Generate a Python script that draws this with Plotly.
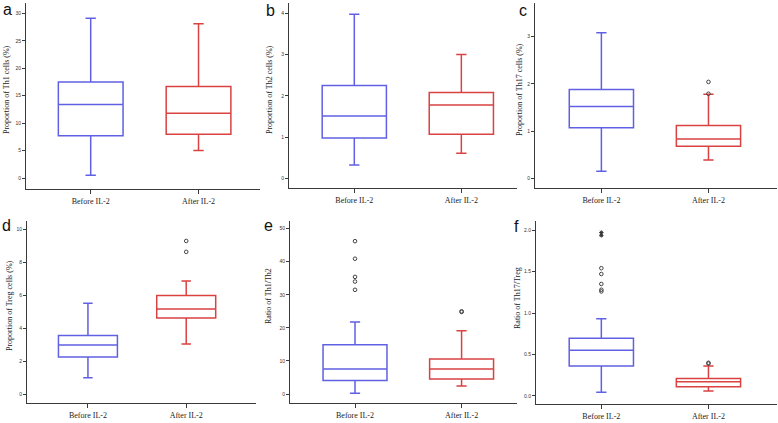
import plotly.graph_objects as go

W, H = 778, 423

groups = ["Before IL-2", "After IL-2"]

# five-number summaries: [lower whisker, Q1, median, Q3, upper whisker]
th1_before = [0.5, 7.7, 13.4, 17.5, 29.1]
th1_after = [5.0, 8.0, 11.8, 16.7, 28.1]

th2_before = [0.32, 0.98, 1.51, 2.25, 3.98]
th2_after = [0.61, 1.07, 1.78, 2.08, 3.0]

th17_before = [0.15, 1.07, 1.52, 1.88, 3.08]
th17_after = [0.39, 0.68, 0.83, 1.12, 1.78]
th17_after_out = [1.79, 2.04]

treg_before = [1.01, 2.26, 2.99, 3.56, 5.52]
treg_after = [3.05, 4.63, 5.17, 5.98, 6.87]
treg_after_out = [8.63, 9.29]

th1th2_before = [0.2, 4.1, 7.55, 14.9, 21.8]
th1th2_before_out = [31.5, 34.0, 35.4, 40.9, 46.2]
th1th2_after = [2.4, 4.5, 7.55, 10.6, 19.1]
th1th2_after_out = [24.8, 25.0]

th17treg_before = [0.044, 0.36, 0.55, 0.695, 0.93]
th17treg_before_out = [1.26, 1.28, 1.35, 1.47, 1.54]
th17treg_before_ext = [1.935, 1.97]
th17treg_after = [0.06, 0.11, 0.17, 0.21, 0.36]
th17treg_after_out = [0.39, 0.40]

titles = ["Proportion of Th1 cells (%)", "Proportion of Th2 cells (%)",
          "Proportion of Th17 cells (%)", "Proportion of Treg cells (%)",
          "Ratio of Th1/Th2", "Ratio of Th17/Treg"]
letters = ["a", "b", "c", "d", "e", "f"]

BLUE = "rgb(96,96,228)"
RED = "rgb(218,66,66)"
AX = "#3a3a3a"
SERIF = "Liberation Serif, Times New Roman, serif"
SANS = "Liberation Sans, Arial, sans-serif"

# layout in pixels
panels = [
    dict(l=26, r=260, t=3, b=189, xr=[-0.60, 1.57], yr=[-2.0, 31.9], dt=5, fmt=""),
    dict(l=289, r=517, t=3, b=188, xr=[-0.61, 1.52], yr=[-0.235, 4.25], dt=1, fmt=""),
    dict(l=535, r=777, t=3, b=188, xr=[-0.62, 1.64], yr=[-0.205, 3.71], dt=1, fmt=""),
    dict(l=27, r=256, t=221, b=403, xr=[-0.62, 1.71], yr=[-0.527, 10.5], dt=2, fmt=""),
    dict(l=290, r=517, t=221, b=403, xr=[-0.61, 1.52], yr=[-2.72, 52.3], dt=10, fmt=""),
    dict(l=536, r=777, t=221, b=404, xr=[-0.61, 1.64], yr=[-0.097, 2.109], dt=0.5, fmt=".1f"),
]
title_pos = [(7, 90), (270, 90), (520, 90), (9, 306), (268, 296), (517, 298)]
letter_pos = [(7, 9), (270, 10), (523, 10), (6, 225), (268, 225), (516, 226)]

summaries = [
    (th1_before, th1_after),
    (th2_before, th2_after),
    (th17_before, th17_after),
    (treg_before, treg_after),
    (th1th2_before, th1th2_after),
    (th17treg_before, th17treg_after),
]
outliers = [
    ([], []),
    ([], []),
    ([], th17_after_out),
    ([], treg_after_out),
    (th1th2_before_out, th1th2_after_out),
    (th17treg_before_out, th17treg_after_out),
]
extremes = [([], []), ([], []), ([], []), ([], []), ([], []), (th17treg_before_ext, [])]

fig = go.Figure()
layout = {}
annotations = []

for i, p in enumerate(panels):
    n = "" if i == 0 else str(i + 1)
    xa, ya = "x" + n, "y" + n
    for g, s, col in zip(groups, summaries[i], [BLUE, RED]):
        fig.add_trace(go.Box(
            x=[g], lowerfence=[s[0]], q1=[s[1]], median=[s[2]], q3=[s[3]],
            upperfence=[s[4]], xaxis=xa, yaxis=ya, width=0.6,
            whiskerwidth=0.16, boxpoints=False, fillcolor="rgba(255,255,255,0)",
            line=dict(color=col, width=1.5), showlegend=False, hoverinfo="skip"))
    for g, o in zip(groups, outliers[i]):
        if o:
            fig.add_trace(go.Scatter(
                x=[g] * len(o), y=o, mode="markers", xaxis=xa, yaxis=ya,
                marker=dict(symbol="circle-open", size=3.6, color="#444",
                            line=dict(width=1, color="#444")),
                showlegend=False, hoverinfo="skip"))
    for g, o in zip(groups, extremes[i]):
        if o:
            fig.add_trace(go.Scatter(
                x=[g] * len(o), y=o, mode="markers", xaxis=xa, yaxis=ya,
                marker=dict(symbol="asterisk-open", size=3.6, color="#333",
                            line=dict(width=1, color="#333")),
                showlegend=False, hoverinfo="skip"))

    xkey = "xaxis" + n
    ykey = "yaxis" + n
    layout[xkey] = dict(
        domain=[p["l"] / W, p["r"] / W], anchor=ya, type="category",
        categoryorder="array", categoryarray=groups, range=p["xr"],
        showline=True, linecolor=AX, linewidth=1, ticks="outside", ticklen=4,
        tickcolor=AX, tickwidth=1, showgrid=False, zeroline=False,
        tickfont=dict(family=SERIF, size=8, color="#222"), fixedrange=True)
    layout[ykey] = dict(
        domain=[1 - p["b"] / H, 1 - p["t"] / H], anchor=xa, range=p["yr"],
        dtick=p["dt"], tick0=0, tickformat=p["fmt"],
        showline=True, linecolor=AX, linewidth=1, ticks="outside", ticklen=3,
        tickcolor=AX, tickwidth=1, showgrid=False, zeroline=False,
        tickfont=dict(family=SANS, size=5, color="#333"), fixedrange=True)

    tx, ty = title_pos[i]
    annotations.append(dict(
        text=titles[i], x=tx / W, y=1 - ty / H, xref="paper", yref="paper",
        textangle=-90, showarrow=False, xanchor="center", yanchor="middle",
        font=dict(family=SERIF, size=8, color="#222")))
    lx, ly = letter_pos[i]
    annotations.append(dict(
        text=letters[i], x=lx / W, y=1 - ly / H, xref="paper", yref="paper",
        showarrow=False, xanchor="center", yanchor="middle",
        font=dict(family=SANS, size=16, color="#111")))

fig.update_layout(
    width=W, height=H, margin=dict(l=0, r=0, t=0, b=0),
    paper_bgcolor="white", plot_bgcolor="white",
    annotations=annotations, **layout)

fig.write_html("out.html", config={"displayModeBar": False},
               post_script="document.body.style.margin='0';"
                           "document.body.style.overflow='hidden';")
